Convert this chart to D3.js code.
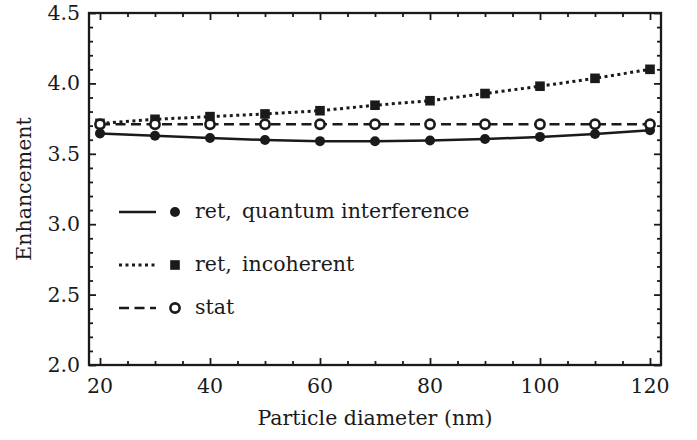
<!DOCTYPE html>
<html>
<head>
<meta charset="utf-8">
<script src="https://cdn.jsdelivr.net/npm/d3@7"></script>
<style>
  body { margin: 0; background: #fff; }
  text { font-family: "DejaVu Serif", "Liberation Serif", serif; fill: #1a1a1a; }
</style>
</head>
<body>
<svg id="svg1" width="697" height="440"></svg>
<script>
// particle diameter (nm)
var diameters = [20, 30, 40, 50, 60, 70, 80, 90, 100, 110, 120];
// enhancement values
var retQuantum = [3.645, 3.628, 3.612, 3.598, 3.590, 3.589, 3.595, 3.605, 3.620, 3.640, 3.668];
var retIncoherent = [3.716, 3.745, 3.764, 3.783, 3.806, 3.845, 3.877, 3.928, 3.980, 4.036, 4.100];
var statValues = [3.710, 3.710, 3.710, 3.710, 3.710, 3.710, 3.710, 3.710, 3.710, 3.710, 3.710];

var xTickLabels = [20, 40, 60, 80, 100, 120];
var yTickLabels = ["2.0", "2.5", "3.0", "3.5", "4.0", "4.5"];
var legendLabels = ["ret,\u2002quantum interference", "ret,\u2002incoherent", "stat"];

var svg = d3.select('#svg1');
var plotLeft = 89, plotRight = 661, plotTop = 13, plotBottom = 365;
var ink = '#1a1a1a';
var fontSize = 20.5;

var x = d3.scaleLinear().domain([18, 122]).range([plotLeft, plotRight]);
var y = d3.scaleLinear().domain([2.0, 4.5]).range([plotBottom, plotTop]);

// minor / major tick values
var xMinor = d3.range(20, 121, 5).filter(function (d) { return d % 20 != 0; });
var yMinor = d3.range(20, 46, 1).map(function (d) { return d / 10; }).filter(function (d) { return Math.round(d * 10) % 5 != 0; });
var yMajor = yTickLabels.map(Number);

function tickGroup(axis, cls) {
    return svg.append('g').attr('class', cls).call(axis)
        .call(function (g) { g.select('.domain').remove(); })
        .call(function (g) { g.selectAll('text').remove(); })
        .call(function (g) { g.selectAll('line').attr('stroke', ink).attr('stroke-width', 1.8); });
}

// bottom / top ticks (inward)
tickGroup(d3.axisBottom(x).tickValues(xTickLabels).tickSizeInner(-7).tickSizeOuter(0), 'xb').attr('transform', 'translate(0,' + plotBottom + ')');
tickGroup(d3.axisBottom(x).tickValues(xMinor).tickSizeInner(-4).tickSizeOuter(0), 'xbm').attr('transform', 'translate(0,' + plotBottom + ')');
tickGroup(d3.axisTop(x).tickValues(xTickLabels).tickSizeInner(-7).tickSizeOuter(0), 'xt').attr('transform', 'translate(0,' + plotTop + ')');
tickGroup(d3.axisTop(x).tickValues(xMinor).tickSizeInner(-4).tickSizeOuter(0), 'xtm').attr('transform', 'translate(0,' + plotTop + ')');
// left / right ticks (inward)
tickGroup(d3.axisLeft(y).tickValues(yMajor).tickSizeInner(-7).tickSizeOuter(0), 'yl').attr('transform', 'translate(' + plotLeft + ',0)');
tickGroup(d3.axisLeft(y).tickValues(yMinor).tickSizeInner(-4).tickSizeOuter(0), 'ylm').attr('transform', 'translate(' + plotLeft + ',0)');
tickGroup(d3.axisRight(y).tickValues(yMajor).tickSizeInner(-7).tickSizeOuter(0), 'yr').attr('transform', 'translate(' + plotRight + ',0)');
tickGroup(d3.axisRight(y).tickValues(yMinor).tickSizeInner(-4).tickSizeOuter(0), 'yrm').attr('transform', 'translate(' + plotRight + ',0)');

// frame
svg.append('rect')
    .attr('x', plotLeft).attr('y', plotTop)
    .attr('width', plotRight - plotLeft).attr('height', plotBottom - plotTop)
    .attr('fill', 'none').attr('stroke', ink).attr('stroke-width', 2.3);

// tick labels
svg.append('g').selectAll('text').data(xTickLabels).enter().append('text')
    .attr('x', function (d) { return x(d); })
    .attr('y', 393)
    .attr('text-anchor', 'middle')
    .attr('font-size', fontSize)
    .text(function (d) { return d; });

svg.append('g').selectAll('text').data(yTickLabels).enter().append('text')
    .attr('x', 80)
    .attr('y', function (d) { return y(+d) + 7; })
    .attr('text-anchor', 'end')
    .attr('font-size', fontSize)
    .text(function (d) { return d; });

// axis titles
svg.append('text')
    .attr('x', (plotLeft + plotRight) / 2).attr('y', 425)
    .attr('text-anchor', 'middle')
    .attr('font-size', fontSize)
    .text('Particle diameter (nm)');

svg.append('text')
    .attr('transform', 'translate(31,' + ((plotTop + plotBottom) / 2) + ') rotate(-90)')
    .attr('text-anchor', 'middle')
    .attr('font-size', fontSize)
    .text('Enhancement');

// series
var series = [
    { values: retQuantum, dash: null, width: 2.5, marker: 'dot' },
    { values: retIncoherent, dash: '3,3.5', width: 3, marker: 'square' },
    { values: statValues, dash: '10,5.5', width: 2.6, marker: 'ring' }
];

var line = d3.line()
    .x(function (d) { return x(d[0]); })
    .y(function (d) { return y(d[1]); });

function drawMarker(g, kind, cx, cy) {
    if (kind == 'dot') {
        g.append('circle').attr('cx', cx).attr('cy', cy).attr('r', 5).attr('fill', ink);
    }
    else if (kind == 'square') {
        g.append('rect').attr('x', cx - 4.8).attr('y', cy - 4.8).attr('width', 9.6).attr('height', 9.6).attr('fill', ink);
    }
    else if (kind == 'ring') {
        g.append('circle').attr('cx', cx).attr('cy', cy).attr('r', 4.6)
            .attr('fill', '#fff').attr('stroke', ink).attr('stroke-width', 2.6);
    }
}

series.forEach(function (s) {
    var pts = diameters.map(function (d, i) { return [d, s.values[i]]; });
    var g = svg.append('g');
    g.append('path').datum(pts)
        .attr('d', line)
        .attr('fill', 'none')
        .attr('stroke', ink)
        .attr('stroke-width', s.width)
        .attr('stroke-dasharray', s.dash);
    pts.forEach(function (p) { drawMarker(g, s.marker, x(p[0]), y(p[1])); });
});

// legend
var legendY = [212, 265, 308];
series.forEach(function (s, i) {
    var g = svg.append('g');
    g.append('line')
        .attr('x1', 119).attr('x2', 156)
        .attr('y1', legendY[i]).attr('y2', legendY[i])
        .attr('stroke', ink)
        .attr('stroke-width', s.width)
        .attr('stroke-dasharray', s.dash);
    drawMarker(g, s.marker, 175, legendY[i]);
    g.append('text')
        .attr('x', 195).attr('y', legendY[i] + 6)
        .attr('font-size', fontSize)
        .text(legendLabels[i]);
});
</script>
</body>
</html>
